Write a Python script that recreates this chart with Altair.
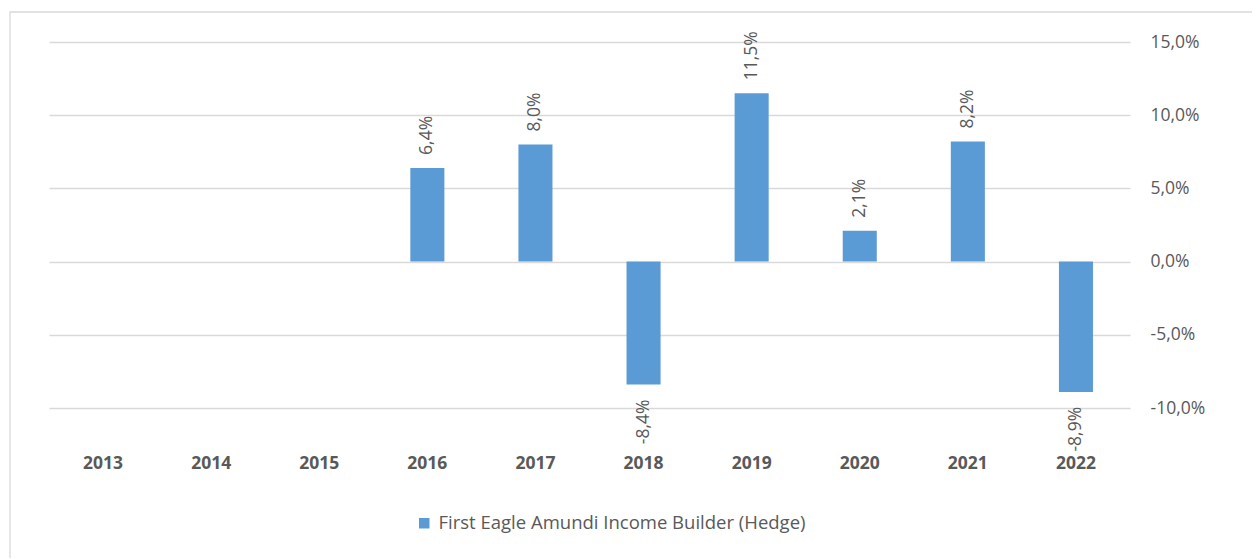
import altair as alt
import pandas as pd

years = ["2013", "2014", "2015", "2016", "2017", "2018", "2019", "2020", "2021", "2022"]
values = [None, None, None, 6.4, 8.0, -8.4, 11.5, 2.1, 8.2, -8.9]
series_name = "First Eagle Amundi Income Builder (Hedge)"
y_ticks = [-10, -5, 0, 5, 10, 15]

df = pd.DataFrame({"year": years, "value": values})
df["series"] = series_name
df["label"] = [None if v is None or pd.isna(v) else f"{v:.1f}%".replace(".", ",") for v in df["value"]]

FONT = "Open Sans"
GRAY = "#595959"
BLUE = "#5B9BD5"

x_enc = alt.X("year:N", sort=years,
              scale=alt.Scale(paddingInner=0.685, paddingOuter=0.3425),
              axis=alt.Axis(title=None, labelAngle=0, domain=False, ticks=False,
                            labelFontWeight="bold", labelFontSize=17.5, labelColor=GRAY,
                            labelFont=FONT, labelPadding=46))
y_scale = alt.Scale(domain=[-10, 15], nice=False, zero=False)

bars = alt.Chart(df).mark_bar(color=BLUE).encode(
    x=x_enc,
    y=alt.Y("value:Q", scale=y_scale,
            axis=alt.Axis(title=None, orient="right", values=y_ticks, domain=False, ticks=False,
                          grid=True, gridColor="#D9D9D9", gridWidth=1.3,
                          labelExpr="replace(replace(format(datum.value, '.1f'), '.', ','), '\u2212', '-') + '%'",
                          labelFontSize=17.5, labelColor=GRAY, labelFont=FONT, labelPadding=20,
                          labelAlign="left")),
    fill=alt.Fill("series:N", scale=alt.Scale(range=[BLUE]),
                  legend=alt.Legend(title=None, orient="none", legendX=366, legendY=472,
                                    symbolType="square", symbolSize=110, symbolStrokeWidth=0,
                                    labelLimit=0, labelOffset=5,
                                    labelFontSize=18.5, labelColor=GRAY, labelFont=FONT)),
)

pos_labels = alt.Chart(df).transform_filter("datum.value >= 0").mark_text(
    angle=270, align="left", baseline="middle", dx=13, fontSize=17.5, color=GRAY, font=FONT
).encode(x=alt.X("year:N", sort=years), y=alt.Y("value:Q", scale=y_scale), text="label:N")

neg_labels = alt.Chart(df).transform_filter("datum.value < 0").mark_text(
    angle=270, align="right", baseline="middle", dx=-15, fontSize=17.5, color=GRAY, font=FONT
).encode(x=alt.X("year:N", sort=years), y=alt.Y("value:Q", scale=y_scale), text="label:N")

frame = alt.Chart(pd.DataFrame({"a": [0]})).mark_rect(
    fill="transparent", stroke="#D9D9D9", strokeWidth=1.3
).encode(x=alt.value(-39), x2=alt.value(1300), y=alt.value(-30), y2=alt.value(700))

chart = alt.layer(frame, bars, pos_labels, neg_labels).properties(
    width=1081, height=366,
    background="white",
    autosize=alt.AutoSizeParams(type="none"),
    padding={"left": 41, "top": 34, "right": 122, "bottom": 150},
).configure_view(strokeWidth=0, stroke="transparent")

chart.save("out.html", embed_options={"renderer": "svg", "actions": False})
